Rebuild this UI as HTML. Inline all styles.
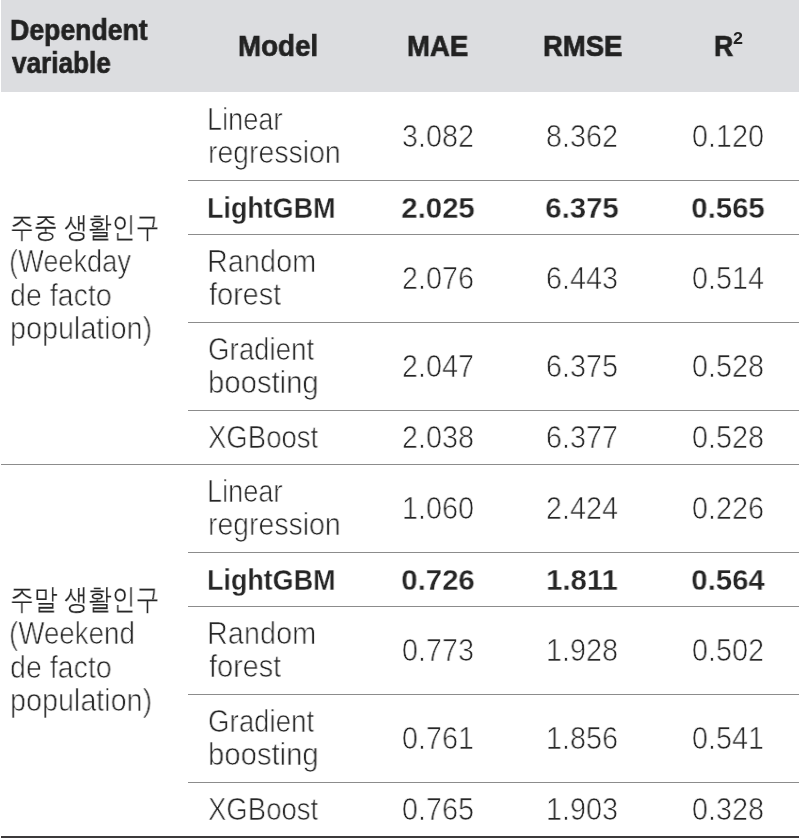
<!DOCTYPE html>
<html><head><meta charset="utf-8"><style>
html,body{margin:0;padding:0;background:#fff;}
body{width:800px;height:838px;position:relative;overflow:hidden;font-family:"Liberation Sans",sans-serif;color:#262626;}
.hd{position:absolute;left:1px;top:0;width:798px;height:92px;background:#dcdde0;}
.ln{position:absolute;height:1px;background:#8c8c8c;}
.bt{position:absolute;left:1px;width:798px;top:836px;height:2px;background:#3c3a3b;}
.t{position:absolute;white-space:nowrap;line-height:40px;height:40px;font-size:30.5px;-webkit-text-stroke:0.7px #fff;transform-origin:0 50%;will-change:transform;}
.b{font-weight:bold;color:#222;font-size:30.0px;-webkit-text-stroke:0.7px #222;}
.bb{-webkit-text-stroke:0.3px #fff;color:#262626;}
.c{text-align:center;transform-origin:50% 50%;}
.k{font-size:29.0px;-webkit-text-stroke:0.15px #fff;}
</style></head><body>
<div class="hd"></div>
<div class="ln" style="left:188px;width:611px;top:180px"></div>
<div class="ln" style="left:188px;width:611px;top:234px"></div>
<div class="ln" style="left:188px;width:611px;top:322px"></div>
<div class="ln" style="left:188px;width:611px;top:410px"></div>
<div class="ln" style="left:1px;width:798px;top:464px"></div>
<div class="ln" style="left:188px;width:611px;top:552px"></div>
<div class="ln" style="left:188px;width:611px;top:606px"></div>
<div class="ln" style="left:188px;width:611px;top:694px"></div>
<div class="ln" style="left:188px;width:611px;top:782px"></div>
<div class="bt"></div>
<div class="t b" style="left:10.22px;top:9.50px;transform:scaleX(0.8876)">Dependent</div>
<div class="t b" style="left:12.00px;top:42.50px;transform:scaleX(0.8708)">variable</div>
<div class="t b" style="left:237.90px;top:26.25px;transform:scaleX(0.9247)">Model</div>
<div class="t b" style="left:407.16px;top:26.25px;transform:scaleX(0.9180)">MAE</div>
<div class="t b" style="left:542.57px;top:26.25px;transform:scaleX(0.9149)">RMSE</div>
<div class="t b" style="left:713.63px;top:26.25px;transform:scaleX(0.8868)">R</div>
<div style="position:absolute;left:733.2px;top:28.9px;font-size:16px;line-height:20px;font-weight:bold;color:#222;font-family:'Liberation Sans',sans-serif;transform:scaleX(1.12);transform-origin:0 50%">2</div>
<div class="t" style="left:207.33px;top:98.80px;transform:scaleX(0.8889)">Linear</div>
<div class="t" style="left:207.64px;top:132.00px;transform:scaleX(0.9312)">regression</div>
<div class="t c" style="left:358.00px;top:115.50px;width:160px;transform:scaleX(0.9431)">3.082</div>
<div class="t c" style="left:502.00px;top:115.50px;width:160px;transform:scaleX(0.9431)">8.362</div>
<div class="t c" style="left:648.00px;top:115.50px;width:160px;transform:scaleX(0.9431)">0.120</div>
<div class="t b bb" style="left:207.21px;top:187.50px;transform:scaleX(0.8964)">LightGBM</div>
<div class="t c b bb" style="left:358.00px;top:187.50px;width:160px;transform:scaleX(0.9795)">2.025</div>
<div class="t c b bb" style="left:502.00px;top:187.50px;width:160px;transform:scaleX(0.9795)">6.375</div>
<div class="t c b bb" style="left:648.00px;top:187.50px;width:160px;transform:scaleX(0.9795)">0.565</div>
<div class="t" style="left:206.66px;top:240.80px;transform:scaleX(0.9464)">Random</div>
<div class="t" style="left:208.55px;top:274.00px;transform:scaleX(0.9473)">forest</div>
<div class="t c" style="left:358.00px;top:257.50px;width:160px;transform:scaleX(0.9431)">2.076</div>
<div class="t c" style="left:502.00px;top:257.50px;width:160px;transform:scaleX(0.9431)">6.443</div>
<div class="t c" style="left:648.00px;top:257.50px;width:160px;transform:scaleX(0.9431)">0.514</div>
<div class="t" style="left:207.68px;top:328.80px;transform:scaleX(0.9079)">Gradient</div>
<div class="t" style="left:207.58px;top:362.00px;transform:scaleX(0.9595)">boosting</div>
<div class="t c" style="left:358.00px;top:345.50px;width:160px;transform:scaleX(0.9431)">2.047</div>
<div class="t c" style="left:502.00px;top:345.50px;width:160px;transform:scaleX(0.9431)">6.375</div>
<div class="t c" style="left:648.00px;top:345.50px;width:160px;transform:scaleX(0.9431)">0.528</div>
<div class="t" style="left:207.69px;top:416.50px;transform:scaleX(0.9034)">XGBoost</div>
<div class="t c" style="left:358.00px;top:416.50px;width:160px;transform:scaleX(0.9431)">2.038</div>
<div class="t c" style="left:502.00px;top:416.50px;width:160px;transform:scaleX(0.9431)">6.377</div>
<div class="t c" style="left:648.00px;top:416.50px;width:160px;transform:scaleX(0.9431)">0.528</div>
<div class="t k" style="left:9.61px;top:206.60px;transform:scaleX(0.8206)">주중 생활인구</div>
<div class="t" style="left:9.22px;top:240.50px;transform:scaleX(0.8918)">(Weekday</div>
<div class="t" style="left:9.62px;top:274.50px;transform:scaleX(0.9381)">de facto</div>
<div class="t" style="left:9.62px;top:308.00px;transform:scaleX(0.9422)">population)</div>
<div class="t" style="left:207.33px;top:470.80px;transform:scaleX(0.8889)">Linear</div>
<div class="t" style="left:207.64px;top:504.00px;transform:scaleX(0.9312)">regression</div>
<div class="t c" style="left:358.00px;top:487.50px;width:160px;transform:scaleX(0.9431)">1.060</div>
<div class="t c" style="left:502.00px;top:487.50px;width:160px;transform:scaleX(0.9431)">2.424</div>
<div class="t c" style="left:648.00px;top:487.50px;width:160px;transform:scaleX(0.9431)">0.226</div>
<div class="t b bb" style="left:207.21px;top:559.50px;transform:scaleX(0.8964)">LightGBM</div>
<div class="t c b bb" style="left:358.00px;top:559.50px;width:160px;transform:scaleX(0.9795)">0.726</div>
<div class="t c b bb" style="left:502.00px;top:559.50px;width:160px;transform:scaleX(0.9795)">1.811</div>
<div class="t c b bb" style="left:648.00px;top:559.50px;width:160px;transform:scaleX(0.9795)">0.564</div>
<div class="t" style="left:206.66px;top:612.80px;transform:scaleX(0.9464)">Random</div>
<div class="t" style="left:208.55px;top:646.00px;transform:scaleX(0.9473)">forest</div>
<div class="t c" style="left:358.00px;top:629.50px;width:160px;transform:scaleX(0.9431)">0.773</div>
<div class="t c" style="left:502.00px;top:629.50px;width:160px;transform:scaleX(0.9431)">1.928</div>
<div class="t c" style="left:648.00px;top:629.50px;width:160px;transform:scaleX(0.9431)">0.502</div>
<div class="t" style="left:207.68px;top:700.80px;transform:scaleX(0.9079)">Gradient</div>
<div class="t" style="left:207.58px;top:734.00px;transform:scaleX(0.9595)">boosting</div>
<div class="t c" style="left:358.00px;top:717.50px;width:160px;transform:scaleX(0.9431)">0.761</div>
<div class="t c" style="left:502.00px;top:717.50px;width:160px;transform:scaleX(0.9431)">1.856</div>
<div class="t c" style="left:648.00px;top:717.50px;width:160px;transform:scaleX(0.9431)">0.541</div>
<div class="t" style="left:207.69px;top:788.50px;transform:scaleX(0.9034)">XGBoost</div>
<div class="t c" style="left:358.00px;top:788.50px;width:160px;transform:scaleX(0.9431)">0.765</div>
<div class="t c" style="left:502.00px;top:788.50px;width:160px;transform:scaleX(0.9431)">1.903</div>
<div class="t c" style="left:648.00px;top:788.50px;width:160px;transform:scaleX(0.9431)">0.328</div>
<div class="t k" style="left:9.61px;top:578.60px;transform:scaleX(0.8206)">주말 생활인구</div>
<div class="t" style="left:9.18px;top:612.50px;transform:scaleX(0.9090)">(Weekend</div>
<div class="t" style="left:9.62px;top:646.50px;transform:scaleX(0.9381)">de facto</div>
<div class="t" style="left:9.62px;top:680.00px;transform:scaleX(0.9422)">population)</div>
</body></html>
